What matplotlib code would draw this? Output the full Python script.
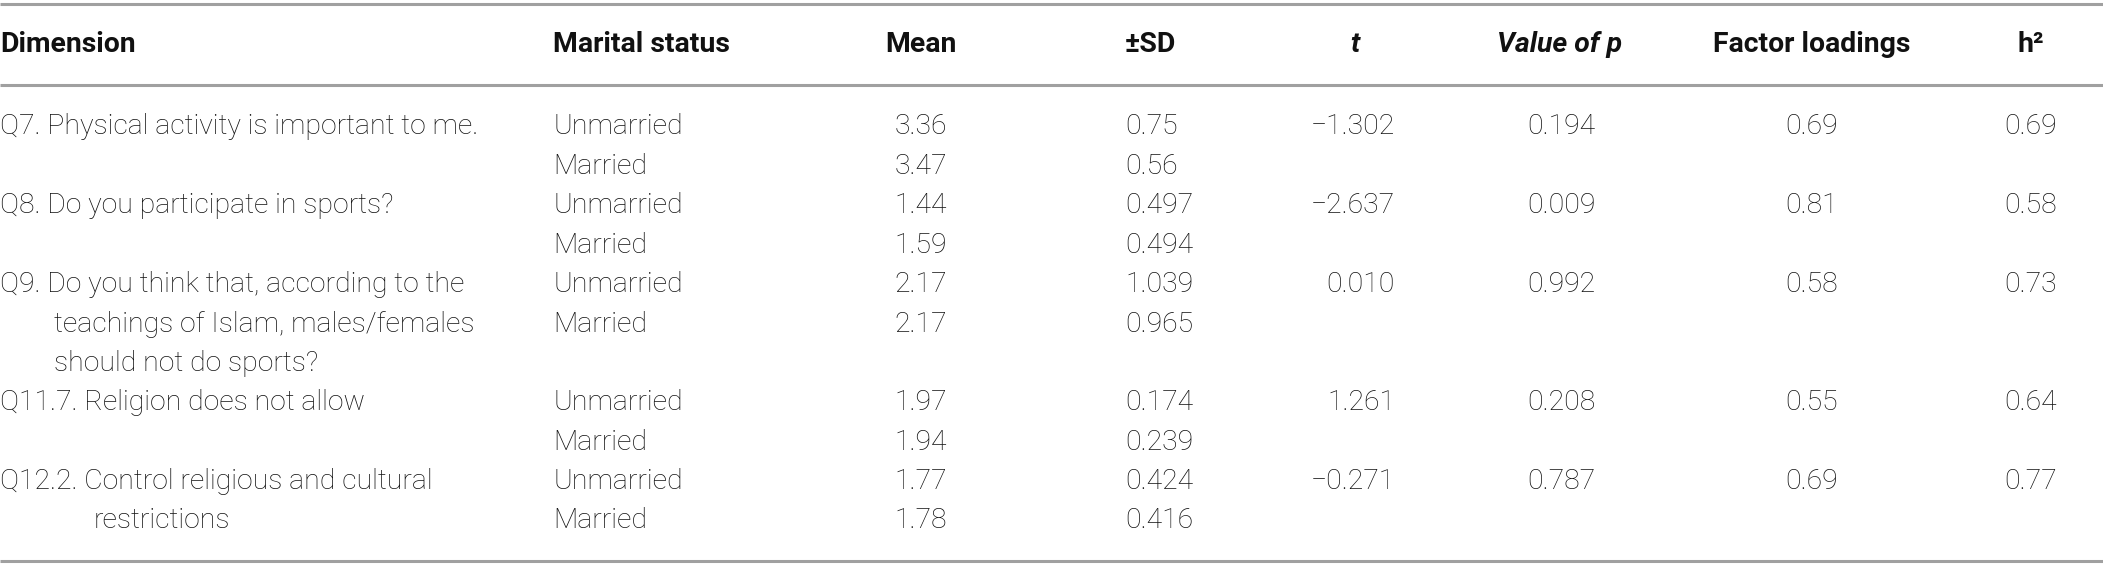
import matplotlib
matplotlib.use('Agg')
import matplotlib.pyplot as plt

# table contents
headers = ['Dimension', 'Marital status', 'Mean', '±SD', 't', 'Value of p', 'Factor loadings', 'h²']
dimensions = [
    ['Q7. Physical activity is important to me.'],
    ['Q8. Do you participate in sports?'],
    ['Q9. Do you think that, according to the', 'teachings of Islam, males/females', 'should not do sports?'],
    ['Q11.7. Religion does not allow'],
    ['Q12.2. Control religious and cultural', 'restrictions'],
]
status = ['Unmarried', 'Married']
means = [[3.36, 3.47], [1.44, 1.59], [2.17, 2.17], [1.97, 1.94], [1.77, 1.78]]
sds = [['0.75', '0.56'], ['0.497', '0.494'], ['1.039', '0.965'], ['0.174', '0.239'], ['0.424', '0.416']]
t_vals = ['−1.302', '−2.637', '0.010', '1.261', '−0.271']
p_vals = ['0.194', '0.009', '0.992', '0.208', '0.787']
loadings = ['0.69', '0.81', '0.58', '0.55', '0.69']
h2 = ['0.69', '0.58', '0.73', '0.64', '0.77']

W, H = 2103, 580
fig = plt.figure(figsize=(W / 100, H / 100), dpi=100)
ax = fig.add_axes([0, 0, 1, 1])
ax.set_xlim(0, W)
ax.set_ylim(H, 0)
ax.axis('off')

font = 'Roboto'
fs = 20.4
txt = '#111111'
line_col = '#a0a0a0'

for y in (4, 85, 561):
    ax.plot([0, W], [y, y], color=line_col, lw=2.2, solid_capstyle='butt')

# header row
hy = 45
hdr = dict(fontsize=fs, family=font, weight='bold', color=txt, va='center')
ax.text(0, hy, headers[0], ha='left', **hdr)
ax.text(553, hy, headers[1], ha='left', **hdr)
ax.text(921, hy, headers[2], ha='center', **hdr)
ax.text(1125, hy, headers[3], ha='left', **hdr)
ax.text(1355, hy, headers[4], ha='center', style='italic', **hdr)
ax.text(1560, hy, headers[5], ha='center', style='italic', **hdr)
ax.text(1812, hy, headers[6], ha='center', **hdr)
ax.text(2031, hy, headers[7], ha='center', **hdr)

body = dict(fontsize=fs, family=font, weight='light', color=txt, va='center')
y0 = 127
step = 39.4
row = 0
indents = [0, 0, 54, 0, 94]
for i, lines in enumerate(dimensions):
    y = y0 + row * step
    for j, ln in enumerate(lines):
        x = 0 if j == 0 else indents[i]
        ax.text(x, y + j * step, ln, ha='left', **body)
    for k in range(2):
        yk = y + k * step
        ax.text(553, yk, status[k], ha='left', **body)
        ax.text(921, yk, f'{means[i][k]:.2f}', ha='center', **body)
        ax.text(1125, yk, sds[i][k], ha='left', **body)
    ax.text(1395, y, t_vals[i], ha='right', **body)
    ax.text(1561, y, p_vals[i], ha='center', **body)
    ax.text(1812, y, loadings[i], ha='center', **body)
    ax.text(2031, y, h2[i], ha='center', **body)
    row += max(2, len(lines))

fig.savefig('out.png', dpi=100)
